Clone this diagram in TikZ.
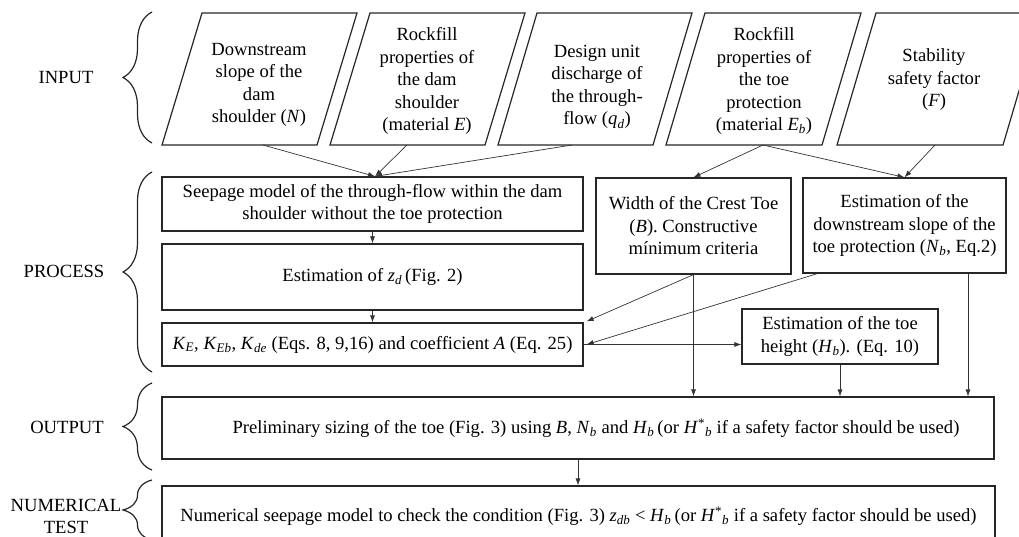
\documentclass[tikz,border=0pt]{standalone}
\usepackage{fontspec}
\setmainfont{Liberation Serif}
\usetikzlibrary{arrows.meta,decorations.pathreplacing,calc}
\newcommand{\vi}[1]{\textit{#1}}
\newcommand{\sbi}[1]{\textsubscript{\textit{#1}}}
\begin{document}
\begin{tikzpicture}[x=1pt,y=-1pt,
  every node/.style={font=\fontsize{18.6pt}{22.5pt}\selectfont, inner sep=0pt, align=center},
  box/.style={draw=black!85, line width=1.2pt},
  para/.style={draw=black!85, line width=1.2pt},
  conn/.style={draw=black!80, line width=0.7pt, -{Latex[length=7pt,width=5pt]}},
  brc/.style={draw=black!85, line width=1.2pt, decorate, decoration={brace, amplitude=29pt}}]
\useasboundingbox (0,0) rectangle (1019,537);
\clip (0,0) rectangle (1019,537);

% braces and phase labels
\draw[brc] (152,143) -- (152,12);
\node (lin) at (66,78) {INPUT};
\draw[brc] (152,372) -- (152,172);
\node (lpr) at (64,271) {PROCESS};
\draw[brc] (152,470) -- (152,383);
\node (lou) at (67,427) {OUTPUT};
\draw[brc] (152,540) -- (152,480);
\node (lnu) at (66,516.5) {NUMERICAL\\TEST};

% input parallelograms
\draw[para] (162,145) -- (202,13) -- (357,13) -- (317,145) -- cycle;
\node (p1) at (259,85) {Downstream\\slope of the\\dam\\shoulder (\vi{N})};
\draw[para] (330,145) -- (370,13) -- (525,13) -- (485,145) -- cycle;
\node (p2) at (427,81) {Rockfill\\properties of\\the dam\\shoulder\\(material \vi{E})};
\draw[para] (498,145) -- (537,13) -- (692,13) -- (653,145) -- cycle;
\node (p3) at (597,87) {Design unit\\discharge of\\the through-\\flow (\vi{q}\sbi{d})};
\draw[para] (666,145) -- (705,13) -- (861,13) -- (822,145) -- cycle;
\node (p4) at (764,81) {Rockfill\\properties of\\the toe\\protection\\(material \vi{E}\sbi{b})};
\draw[para] (837,145) -- (876,13) -- (1042,13) -- (1003,145) -- cycle;
\node (p5) at (934,80) {Stability\\safety factor\\(\vi{F})};

\coordinate (p1b) at (263,145);
\coordinate (p2b) at (407,145);
\coordinate (p3b) at (572,145);
\coordinate (p4b) at (763,145);
\coordinate (p5b) at (935,145);

% process boxes
\node[box, minimum width=421pt, minimum height=54pt] (b1) at (372.5,204)
  {Seepage model of the through-flow within the dam\\shoulder without the toe protection};
\node[box, minimum width=421pt, minimum height=66pt] (b2) at (372.5,277)
  {Estimation of \vi{z}\sbi{d}\,(Fig. 2)};
\node[box, minimum width=421pt, minimum height=43pt] (b3) at (372.5,344.5)
  {\vi{K}\sbi{E}, \vi{K}\sbi{Eb}, \vi{K}\sbi{de} (Eqs. 8, 9,16) and coefficient \vi{A} (Eq. 25)};
\node[box, minimum width=195pt, minimum height=96pt] (w) at (693.5,226)
  {Width of the Crest Toe\\(\vi{B}). Constructive\\mínimum criteria};
\node[box, minimum width=203pt, minimum height=95pt] (s) at (904.5,225.5)
  {Estimation of the\\downstream slope of the\\toe protection (\vi{N}\sbi{b}, Eq.2)};
\node[box, minimum width=196pt, minimum height=55pt] (h) at (840,336.5)
  {Estimation of the toe\\height (\vi{H}\sbi{b}). (Eq. 10)};

% output and test
\node[box, minimum width=832pt, minimum height=62pt] (out) at (578,428) {};
\node (outt) at (596,428) {Preliminary sizing of the toe (Fig. 3) using \vi{B}, \vi{N}\sbi{b} and \vi{H}\sbi{b}\,(or \vi{H}\textsuperscript{*}\sbi{b} if a safety factor should be used)};
\node[box, minimum width=833pt, minimum height=60pt] (num) at (578.5,516)
  {Numerical seepage model to check the condition (Fig. 3) \vi{z}\sbi{db} < \vi{H}\sbi{b}\,(or \vi{H}\textsuperscript{*}\sbi{b} if a safety factor should be used)};

% connectors
\draw[conn] (p1b) -- ($(b1.north)+(2.5,0)$);
\draw[conn] (p2b) -- ($(b1.north)+(2.5,0)$);
\draw[conn] (p3b) -- ($(b1.north)+(2.5,0)$);
\draw[conn] (p4b) -- (w.north);
\draw[conn] (p4b) -- (s.north);
\draw[conn] (p5b) -- (s.north);
\draw[conn] (b1.south) -- (b2.north);
\draw[conn] (b2.south) -- (b3.north);
\draw[conn] (w.south) -- ($(b3.north east)+(3,-1)$);
\draw[conn] ($(s.south west)+(15,0)$) -- ($(b3.east)+(3,0)$);
\draw[conn] (b3.east) -- (h.west |- b3.east);
\draw[conn] (w.south) -- (w.south |- out.north);
\draw[conn] (h.south) -- (h.south |- out.north);
\draw[conn] ($(s.south)+(63.5,0)$) -- ($(s.south |- out.north)+(63.5,0)$);
\draw[conn] (out.south) -- (out.south |- num.north);
\end{tikzpicture}
\end{document}
